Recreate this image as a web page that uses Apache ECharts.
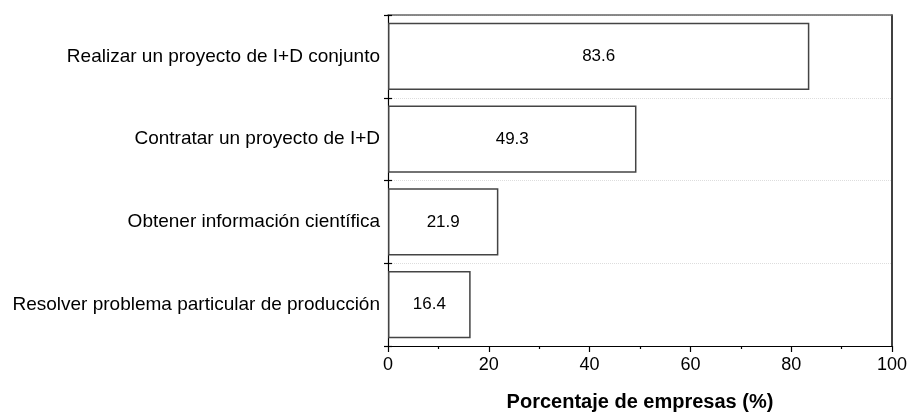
<!DOCTYPE html>
<html>
<head>
<meta charset="utf-8">
<script src="https://cdn.jsdelivr.net/npm/echarts@6/dist/echarts.min.js"></script>
<style>html,body{margin:0;padding:0;background:#fff}#c{width:910px;height:414px}</style>
</head>
<body>
<div id="c"></div>
<script>
var categories = ["Realizar un proyecto de I+D conjunto", "Contratar un proyecto de I+D", "Obtener información científica", "Resolver problema particular de producción"];
var values = [83.6, 49.3, 21.9, 16.4];
var xTicks = [0, 20, 40, 60, 80, 100];
var xTitle = "Porcentaje de empresas (%)";

var FONT = "Liberation Sans, Arial, sans-serif";
var chart = echarts.init(document.getElementById('c'), null, {renderer: 'canvas'});
chart.setOption({
  animation: false,
  backgroundColor: '#fff',
  grid: {left: 388, right: 18, top: 15, bottom: 68, containLabel: false, outerBoundsMode: 'none'},
  xAxis: [{
    type: 'value', min: xTicks[0], max: xTicks[xTicks.length - 1], interval: 20,
    position: 'bottom',
    axisLine: {show: true, lineStyle: {color: '#000', width: 1.2}},
    axisTick: {show: true, inside: false, length: 6, lineStyle: {color: '#000', width: 1.2}},
    minorTick: {show: true, splitNumber: 2, length: 3, lineStyle: {color: '#000', width: 1.2}},
    splitLine: {show: false},
    axisLabel: {color: '#000', fontSize: 18, fontFamily: FONT, margin: 10},
    name: xTitle, nameLocation: 'middle', nameGap: 46,
    nameTextStyle: {color: '#000', fontSize: 20, fontWeight: 'bold', fontFamily: FONT}
  }, {
    type: 'value', min: 0, max: 100, position: 'top',
    axisLine: {show: true, lineStyle: {color: '#666', width: 1.5}},
    axisTick: {show: false}, axisLabel: {show: false}, splitLine: {show: false}
  }],
  yAxis: [{
    type: 'category', data: categories, inverse: true, position: 'left',
    axisLine: {show: true, lineStyle: {color: '#000', width: 1.2}},
    axisTick: {show: true, inside: false, length: 4, lineStyle: {color: '#000', width: 1.2}},
    splitLine: {show: true, lineStyle: {color: '#ddd', type: 'dotted', width: 1}},
    axisLabel: {color: '#000', fontSize: 19, fontFamily: FONT, margin: 8}
  }, {
    type: 'category', data: categories, inverse: true, position: 'left', offset: 0,
    axisLine: {show: false},
    axisTick: {show: true, inside: true, length: 4, lineStyle: {color: '#000', width: 1.2}},
    axisLabel: {show: false}, splitLine: {show: false}
  }, {
    type: 'category', data: categories, inverse: true, position: 'right',
    axisLine: {show: true, lineStyle: {color: '#000', width: 1.5}},
    axisTick: {show: false}, axisLabel: {show: false}, splitLine: {show: false}
  }],
  series: [{
    type: 'bar', data: values, xAxisIndex: 0, yAxisIndex: 0,
    barCategoryGap: '19%',
    itemStyle: {color: '#fff', borderColor: '#444', borderWidth: 1.5},
    label: {show: true, position: 'inside', color: '#000', fontSize: 17, fontFamily: FONT,
      formatter: function (p) { return p.value.toFixed(1); }}
  }]
});
</script>
</body>
</html>
